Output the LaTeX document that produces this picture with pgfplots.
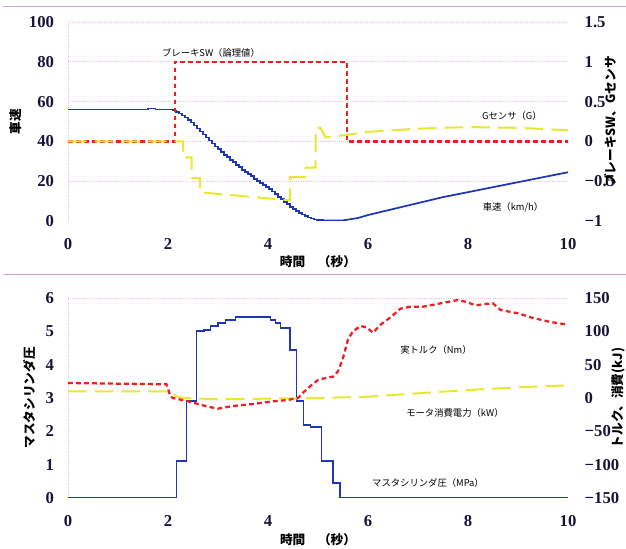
\documentclass[border=0pt]{standalone}
\usepackage{pgfplots}
\pgfplotsset{compat=1.18}
\usepackage{fontspec}
\setmainfont{Liberation Serif}
\newfontfamily\cjk{Noto Sans CJK JP}
\definecolor{cblue}{RGB}{30,55,185}
\definecolor{cred}{RGB}{240,30,35}
\definecolor{cyel}{RGB}{232,232,45}
\definecolor{pinkgrid}{RGB}{228,190,228}
\definecolor{sepline}{RGB}{205,165,215}
\definecolor{tickc}{RGB}{25,20,55}
\pgfplotsset{
  base/.style={
    scale only axis, width=375pt, xmin=0, xmax=10,
    axis line style={draw=none}, tick style={draw=none},
    tick label style={font=\fontsize{12.5}{13}\selectfont\bfseries, text=tickc},
    grid style={pinkgrid, line width=0.6pt, densely dotted},
  },
  redl/.style={cred, line width=1.7pt, dash pattern=on 3.6pt off 2.4pt},
  yell/.style={cyel, line width=1.5pt, dash pattern=on 14pt off 6pt},
  bluel/.style={cblue, line width=1.3pt},
}
\begin{document}
\begin{tikzpicture}
\useasboundingbox (0,0) rectangle (469.5pt,411.75pt);
\draw[sepline, line width=1pt] (2pt,407pt) -- (469.5pt,407pt);
\draw[sepline, line width=1pt] (2pt,206pt) -- (469.5pt,206pt);
% ---------- top panel, left axis ----------
\begin{axis}[base, at={(51pt,246pt)}, anchor=south west, height=149.25pt,
  ymin=0, ymax=100,
  xtick={0,2,4,6,8,10}, xticklabels={0,2,4,6,8,10},
  ytick={0,20,40,60,80,100}, yticklabels={0,20,40,60,80,100},
  extra x ticks={0}, extra x tick labels={}, extra x tick style={grid=major},
  extra y ticks={20,40,60,80,100}, extra y tick labels={}, extra y tick style={grid=major},
  xticklabel style={anchor=center, yshift=-17.5pt},
  yticklabel style={anchor=east, xshift=-7pt},
  xlabel={\cjk\bfseries 時間　（秒）},
  xlabel style={at={(rel axis cs:0.5,0)}, anchor=center, yshift=-30.5pt, font=\fontsize{9.5}{10}\selectfont},
  ylabel={\cjk\bfseries 車速},
  ylabel style={at={(rel axis cs:0,0.5)}, anchor=center, yshift=39pt, font=\fontsize{9.5}{10}\selectfont},
]
\addplot[bluel, const plot] coordinates {
(0,56) (1.5,56) (1.6,56.5) (1.75,56) (2.1,55.5) (2.16,54.8) (2.22,54) (2.28,53) (2.34,52) (2.40,50.8) (2.46,49.5)
(2.52,48) (2.58,46.5) (2.64,45) (2.70,43.5) (2.76,42) (2.82,40.5) (2.88,39) (2.94,37.5) (3.00,36) (3.06,34.5)
(3.12,33.2) (3.18,32) (3.24,30.7) (3.30,29.5) (3.36,28.2) (3.42,27) (3.48,25.7)
(3.54,24.5) (3.60,23.5) (3.66,22.5) (3.72,21.2) (3.78,20) (3.84,19) (3.90,18) (3.96,17) (4.02,16) (4.08,14.8) (4.14,13.5) (4.20,12.2) (4.26,11)
(4.32,9.7) (4.38,8.5) (4.44,7.2) (4.50,6) (4.56,5) (4.62,4) (4.68,3.2) (4.74,2.5) (4.80,1.8) (4.86,1.2) (4.92,0.8) (4.98,0.5) (5.10,0.2)};
\addplot[bluel] coordinates {
(5.10,0.2) (5.5,0.3) (5.8,1.5) (6.0,3) (6.5,6) (7,9) (7.5,12) (8,14.5) (8.5,17) (9,19.5) (9.5,22) (10,24.5)};
\node[font=\cjk\fontsize{7}{8}\selectfont] at (axis cs:2.86,84.5) {ブレーキSW（論理値）};
\node[font=\cjk\fontsize{7}{8}\selectfont] at (axis cs:8.88,53) {Gセンサ（G）};
\node[font=\cjk\fontsize{7}{8}\selectfont] at (axis cs:8.9,7) {車速（km/h）};
\end{axis}
% ---------- top panel, right axis ----------
\begin{axis}[base, at={(51pt,246pt)}, anchor=south west, height=149.25pt,
  ymin=-1, ymax=1.5, axis x line=none, axis y line*=right,
  ytick={-1,-0.5,0,0.5,1,1.5}, yticklabels={−1,−0.5,0,0.5,1,1.5},
  yticklabel style={anchor=west, xshift=9pt},
  ylabel={\cjk\bfseries ブレーキSW、Gセンサ},
  ylabel style={at={(rel axis cs:1,0.5)}, anchor=center, yshift=-32pt, font=\fontsize{9.5}{10}\selectfont},
]
\addplot[redl] coordinates {(0,0) (2.14,0) (2.14,1) (5.58,1) (5.58,0) (10,0)};
\addplot[yell] coordinates {
(0,0) (2.3,0) (2.3,-0.2) (2.47,-0.2) (2.47,-0.46) (2.64,-0.46) (2.64,-0.64)
(4.44,-0.74) (4.44,-0.45) (4.75,-0.45) (4.75,-0.33) (4.95,-0.33) (4.95,0.17)
(5.05,0.17) (5.15,0.05) (5.55,0.08) (6,0.12) (7,0.16) (8,0.18) (9,0.17) (10,0.14)};
\end{axis}
% ---------- bottom panel, left axis ----------
\begin{axis}[base, at={(51pt,38.25pt)}, anchor=south west, height=150pt,
  ymin=0, ymax=6,
  xtick={0,2,4,6,8,10}, xticklabels={0,2,4,6,8,10},
  ytick={0,1,2,3,4,5,6}, yticklabels={0,1,2,3,4,5,6},
  extra x ticks={0}, extra x tick labels={}, extra x tick style={grid=major},
  extra y ticks={6}, extra y tick labels={}, extra y tick style={grid=major},
  xticklabel style={anchor=center, yshift=-17.5pt},
  yticklabel style={anchor=east, xshift=-7pt},
  xlabel={\cjk\bfseries 時間　（秒）},
  xlabel style={at={(rel axis cs:0.5,0)}, anchor=center, yshift=-31pt, font=\fontsize{9.5}{10}\selectfont},
  ylabel={\cjk\bfseries マスタシリンダ圧},
  ylabel style={at={(rel axis cs:0,0.5)}, anchor=center, yshift=29pt, font=\fontsize{9.5}{10}\selectfont},
]
\addplot[bluel, const plot] coordinates {
(0,0) (2.17,1.1) (2.37,2.9) (2.57,5.0) (2.72,5.05) (2.85,5.15) (3.0,5.25) (3.15,5.33)
(3.35,5.42) (4.05,5.35) (4.15,5.25) (4.25,5.1) (4.44,4.44) (4.57,2.9) (4.71,2.2)
(4.85,2.12) (5.07,1.1) (5.3,0.45) (5.44,0) (10,0)};
\node[font=\cjk\fontsize{7}{8}\selectfont] at (axis cs:7.36,4.44) {実トルク（Nm）};
\node[font=\cjk\fontsize{7}{8}\selectfont] at (axis cs:7.74,2.55) {モータ消費電力（kW）};
\node[font=\cjk\fontsize{7}{8}\selectfont] at (axis cs:7.2,0.45) {マスタシリンダ圧（MPa）};
\end{axis}
% ---------- bottom panel, right axis ----------
\begin{axis}[base, at={(51pt,38.25pt)}, anchor=south west, height=150pt,
  ymin=-150, ymax=150, axis x line=none, axis y line*=right,
  ytick={-150,-100,-50,0,50,100,150}, yticklabels={−150,−100,−50,0,50,100,150},
  yticklabel style={anchor=west, xshift=9pt},
  ylabel={\cjk\bfseries トルク、消費(kJ)},
  ylabel style={at={(rel axis cs:1,0.5)}, anchor=center, yshift=-38pt, font=\fontsize{9.5}{10}\selectfont},
]
\addplot[yell] coordinates {
(0,10) (1,10) (2.05,10) (2.15,3) (2.3,0) (3,-2) (4,-1) (5,0) (6,2) (7,7) (8,12) (9,16) (10,19)};
\addplot[redl] coordinates {
(0,22.5) (1,21.5) (1.97,20.5) (2.05,2) (2.1,0) (2.4,-5) (2.8,-13) (3.0,-16) (3.3,-12)
(3.7,-9) (4.1,-5) (4.4,-3) (4.6,0) (4.7,8) (4.85,18) (5.0,27) (5.15,30) (5.3,32)
(5.4,40) (5.5,60) (5.6,88) (5.7,100) (5.85,108) (5.97,106) (6.1,98) (6.25,110)
(6.45,121) (6.65,134) (6.85,137) (7.1,137) (7.45,142) (7.8,147) (7.97,144)
(8.15,139) (8.35,141) (8.5,142) (8.65,132) (9.0,127) (9.3,120) (9.65,114) (10,110)};
\end{axis}
\end{tikzpicture}
\end{document}
